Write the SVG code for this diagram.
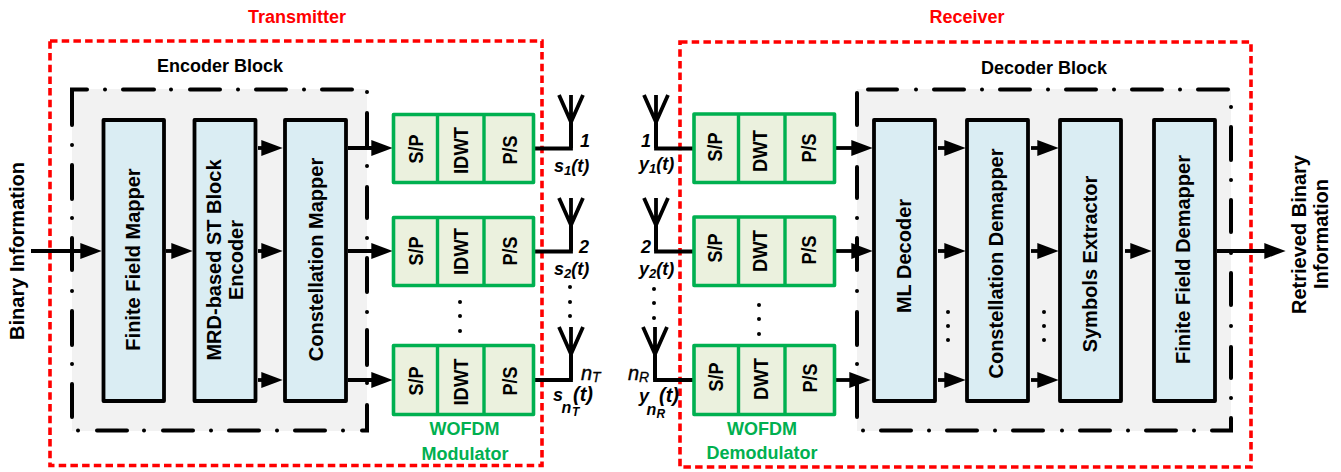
<svg xmlns="http://www.w3.org/2000/svg" width="1341" height="472" viewBox="0 0 1341 472">
<style>
text{font-family:"Liberation Sans",Arial,sans-serif;font-weight:bold;font-size:20px;fill:#000}
.m{text-anchor:middle}
.t18{font-size:18px}
.red{fill:#f00;font-size:18px;text-anchor:middle}
.grn{fill:#00b050;font-size:18px;text-anchor:middle}
.ant{font-size:18px;font-style:italic}
.sub{font-size:13px;font-style:italic}
.par{font-size:20px;font-style:italic}
.sn{font-size:16px;font-style:italic}
.st{font-size:12px;font-style:italic}
.nn{font-size:20px;font-style:italic;font-weight:normal;stroke:#000;stroke-width:.4}
.ns{font-size:14px;font-style:italic;font-weight:normal;stroke:#000;stroke-width:.3}
.bg{fill:#f2f2f2}
.db{fill:none;stroke:#000;stroke-width:4;stroke-linecap:round}
.frame{fill:none;stroke:#f00;stroke-width:3.6;stroke-dasharray:7.5 4.2}
.box{fill:#daedf3;stroke:#000;stroke-width:3.8;stroke-linejoin:round}
.gbox{fill:#ebf1de;stroke:#00b050;stroke-width:3.6;stroke-linejoin:round}
.gdiv{fill:none;stroke:#00b050;stroke-width:3.4}
.c{fill:none;stroke:#000;stroke-width:3.8}
.a{marker-end:url(#arr)}
.dot{fill:#000}
</style>
<defs>
<marker id="arr" markerUnits="userSpaceOnUse" markerWidth="22" markerHeight="16" viewBox="0 0 20 15" refX="10" refY="7.5" orient="auto"><path d="M0 0L20 7.5L0 15Z" fill="#000"/></marker>
<g id="ant"><path class="c" d="M0 0V-26M-12 -53L0 -26L12 -53M0 -26V-53"/></g>
</defs>

<g id="frames">
<rect class="frame" x="50" y="41" width="492" height="424.5"/>
<rect class="frame" x="680" y="42" width="571" height="425"/>
</g>

<g id="encoder-block">
<rect class="bg" x="72" y="89" width="295" height="342"/>
<path class="db" d="M87 89.5H72V125M72 145h.01M72 165V199M72 218h.01M72 238V270M72 291h.01M72 311V345M72 364h.01M72 384V417M78 430.5h.01M97 430.5H127M144 430.5h.01M163 430.5H193M211 430.5h.01M229 430.5H259M277 430.5h.01M295 430.5H325M343 430.5h.01M362 430.5H367V405M367 383h.01M367 365V330M367 312h.01M367 292V258M367 238h.01M367 218V187M367 166h.01M367 148V113M367 92h.01M352 89.5H322M304 89.5h.01M286 89.5H256M238 89.5h.01M220 89.5H190M171 89.5h.01M154 89.5H123M105 89.5h.01"/>
<text class="m t18" x="220" y="71.500">Encoder Block</text>
</g>
<g id="decoder-block">
<rect class="bg" x="857" y="89" width="374" height="342"/>
<path class="db" d="M857 93V125M857 145h.01M857 167V198M857 218h.01M857 238V270M857 291h.01M857 312V345M857 364h.01M857 384V417M863 430.5h.01M881 430.5H911M929 430.5h.01M947 430.5H977M995 430.5h.01M1013 430.5H1043M1062 430.5h.01M1080 430.5H1110M1128 430.5h.01M1146 430.5H1176M1194 430.5h.01M1212 430.5H1231V418M1231 398h.01M1231 378V347M1231 326h.01M1231 305V273M1231 253h.01M1231 232V200M1231 180h.01M1231 160V127M1231 107h.01M1228 89.5H1198M1180 89.5h.01M1162 89.5H1132M1114 89.5h.01M1096 89.5H1066M1048 89.5h.01M1030 89.5H1000M982 89.5h.01M964 89.5H934M916 89.5h.01M897 89.5H868"/>
<text class="m t18" x="1044" y="74">Decoder Block</text>
</g>

<g id="connectors">
<path class="c a" d="M31 251H91"/>
<path class="c a" d="M166 251H182"/>
<path class="c a" d="M258 148H272"/>
<path class="c a" d="M258 251H272"/>
<path class="c a" d="M258 380H272"/>
<path class="c a" d="M348 148H382"/>
<path class="c a" d="M348 251H382"/>
<path class="c a" d="M348 380H382"/>
<path class="c" d="M535 148.500H571V122"/>
<path class="c" d="M535 251.500H571V225"/>
<path class="c" d="M535 380H571V353"/>
<path class="c" d="M656 122V148.500H693"/>
<path class="c" d="M656 225V251.500H695"/>
<path class="c" d="M655 353V380H695"/>
<path class="c a" d="M836 148H862"/>
<path class="c a" d="M836 251H862"/>
<path class="c a" d="M836 380H860"/>
<path class="c a" d="M938 148H955"/>
<path class="c a" d="M938 251H955"/>
<path class="c a" d="M938 380H955"/>
<path class="c a" d="M1031 148H1048"/>
<path class="c a" d="M1031 251H1048"/>
<path class="c a" d="M1031 380H1048"/>
<path class="c a" d="M1125 251H1141"/>
<path class="c a" d="M1217 251H1275"/>
</g>

<g id="finite-field-mapper"><rect class="box" x="103.500" y="120" width="60.500" height="281"/><text class="m" transform="translate(140 259.500) rotate(-90)">Finite Field Mapper</text></g>
<g id="mrd-encoder"><rect class="box" x="194.500" y="120" width="61" height="281"/><text class="m" transform="translate(221 260) rotate(-90)">MRD-based ST Block</text><text class="m" transform="translate(242.500 260) rotate(-90)">Encoder</text></g>
<g id="constellation-mapper"><rect class="box" x="285" y="120" width="61" height="281"/><text class="m" transform="translate(322.500 259.500) rotate(-90)">Constellation Mapper</text></g>

<g id="ml-decoder"><rect class="box" x="874" y="120" width="61" height="281"/><text class="m" transform="translate(910.500 256) rotate(-90)">ML Decoder</text></g>
<g id="constellation-demapper"><rect class="box" x="967" y="120" width="61" height="281"/><text class="m" transform="translate(1003 263.500) rotate(-90)">Constellation Demapper</text></g>
<g id="symbols-extractor"><rect class="box" x="1060" y="120" width="61" height="281"/><text class="m" transform="translate(1097 264) rotate(-90)">Symbols Extractor</text></g>
<g id="finite-field-demapper"><rect class="box" x="1154" y="120" width="61" height="281"/><text class="m" transform="translate(1190 259.500) rotate(-90)">Finite Field Demapper</text></g>

<g id="modulator-1"><rect class="gbox" x="393.500" y="114.500" width="140" height="68"/><path class="gdiv" d="M437.500 114.500V182.500M484 114.500V182.500"/><text class="m" textLength="29" lengthAdjust="spacingAndGlyphs" transform="translate(422.500 149) rotate(-90)">S/P</text><text class="m" textLength="47" lengthAdjust="spacingAndGlyphs" transform="translate(468 150.500) rotate(-90)">IDWT</text><text class="m" textLength="29" lengthAdjust="spacingAndGlyphs" transform="translate(516.500 150) rotate(-90)">P/S</text></g>
<g id="modulator-2"><rect class="gbox" x="393.500" y="217.500" width="140" height="68"/><path class="gdiv" d="M437.500 217.500V285.500M484 217.500V285.500"/><text class="m" textLength="29" lengthAdjust="spacingAndGlyphs" transform="translate(422.500 251) rotate(-90)">S/P</text><text class="m" textLength="47" lengthAdjust="spacingAndGlyphs" transform="translate(468 251.500) rotate(-90)">IDWT</text><text class="m" textLength="29" lengthAdjust="spacingAndGlyphs" transform="translate(516.500 251) rotate(-90)">P/S</text></g>
<g id="modulator-3"><rect class="gbox" x="393.500" y="345.500" width="140" height="69"/><path class="gdiv" d="M437.500 345.500V414.500M484 345.500V414.500"/><text class="m" textLength="29" lengthAdjust="spacingAndGlyphs" transform="translate(422.500 381) rotate(-90)">S/P</text><text class="m" textLength="47" lengthAdjust="spacingAndGlyphs" transform="translate(468 382) rotate(-90)">IDWT</text><text class="m" textLength="29" lengthAdjust="spacingAndGlyphs" transform="translate(516.500 381) rotate(-90)">P/S</text></g>

<g id="demodulator-1"><rect class="gbox" x="694" y="114" width="140.500" height="68.500"/><path class="gdiv" d="M738.500 114V182.500M785 114V182.500"/><text class="m" textLength="29" lengthAdjust="spacingAndGlyphs" transform="translate(722 147) rotate(-90)">S/P</text><text class="m" textLength="42" lengthAdjust="spacingAndGlyphs" transform="translate(767 151) rotate(-90)">DWT</text><text class="m" textLength="29" lengthAdjust="spacingAndGlyphs" transform="translate(816 148) rotate(-90)">P/S</text></g>
<g id="demodulator-2"><rect class="gbox" x="694" y="217" width="140.500" height="68.500"/><path class="gdiv" d="M738.500 217V285.500M785 217V285.500"/><text class="m" textLength="29" lengthAdjust="spacingAndGlyphs" transform="translate(722 248) rotate(-90)">S/P</text><text class="m" textLength="42" lengthAdjust="spacingAndGlyphs" transform="translate(767 251) rotate(-90)">DWT</text><text class="m" textLength="29" lengthAdjust="spacingAndGlyphs" transform="translate(816 250) rotate(-90)">P/S</text></g>
<g id="demodulator-3"><rect class="gbox" x="694" y="345.500" width="140.500" height="69"/><path class="gdiv" d="M738.500 345.500V414.500M785 345.500V414.500"/><text class="m" textLength="29" lengthAdjust="spacingAndGlyphs" transform="translate(723 377) rotate(-90)">S/P</text><text class="m" textLength="42" lengthAdjust="spacingAndGlyphs" transform="translate(768 379) rotate(-90)">DWT</text><text class="m" textLength="29" lengthAdjust="spacingAndGlyphs" transform="translate(817 378) rotate(-90)">P/S</text></g>

<g id="tx-antennas">
<use href="#ant" x="571" y="148"/><use href="#ant" x="571" y="251"/><use href="#ant" x="571" y="380"/>
<text class="ant" x="580" y="147">1</text>
<text class="ant" x="554" y="172">s<tspan class="sub" dy="3">1</tspan><tspan dy="-3">(t)</tspan></text>
<text class="ant" x="579" y="253">2</text>
<text class="ant" x="554" y="275">s<tspan class="sub" dy="3">2</tspan><tspan dy="-3">(t)</tspan></text>
<text class="nn" x="581" y="380">n</text><text class="ns" x="592" y="382">T</text>
<text class="ant" x="553" y="401">s</text><text class="sn" x="561.500" y="413">n</text><text class="st" x="572" y="416">T</text><text class="par" x="573" y="401">(t)</text>
</g>
<g id="rx-antennas">
<use href="#ant" x="656" y="148"/><use href="#ant" x="656" y="251"/><use href="#ant" x="655" y="380"/>
<text class="ant" x="641" y="147">1</text>
<text class="ant" x="639" y="170">y<tspan class="sub" dy="3">1</tspan><tspan dy="-3">(t)</tspan></text>
<text class="ant" x="641" y="253">2</text>
<text class="ant" x="639" y="275">y<tspan class="sub" dy="3">2</tspan><tspan dy="-3">(t)</tspan></text>
<text class="nn" x="628" y="380">n</text><text class="ns" x="639" y="382">R</text>
<text class="ant" x="639" y="402">y</text><text class="sn" x="646.500" y="415">n</text><text class="st" x="656.500" y="418">R</text><text class="par" x="659" y="402">(t)</text>
</g>

<g id="ellipses" class="dot">
<circle cx="460" cy="302" r="2"/><circle cx="460" cy="316" r="2"/><circle cx="460" cy="331" r="2"/>
<circle cx="570" cy="287" r="2"/><circle cx="570" cy="302" r="2"/><circle cx="570" cy="316" r="2"/>
<circle cx="654" cy="289" r="2"/><circle cx="654" cy="303" r="2"/><circle cx="654" cy="318" r="2"/>
<circle cx="759" cy="305" r="2"/><circle cx="759" cy="319" r="2"/><circle cx="759" cy="334" r="2"/>
<circle cx="948" cy="312" r="2"/><circle cx="948" cy="326" r="2"/><circle cx="948" cy="340" r="2"/>
<circle cx="1044" cy="312" r="2"/><circle cx="1044" cy="326" r="2"/><circle cx="1044" cy="340" r="2"/>
</g>

<g id="labels">
<text class="red" x="297" y="23">Transmitter</text>
<text class="red" x="967" y="23">Receiver</text>
<text class="grn" x="464.500" y="435">WOFDM</text>
<text class="grn" x="465" y="460">Modulator</text>
<text class="grn" x="762" y="435">WOFDM</text>
<text class="grn" x="762" y="459">Demodulator</text>
<text class="m" transform="translate(23.500 251) rotate(-90)">Binary Information</text>
<text class="m" transform="translate(1306 234.500) rotate(-90)">Retrieved Binary</text>
<text class="m" transform="translate(1328 234) rotate(-90)">Information</text>
</g>
</svg>
